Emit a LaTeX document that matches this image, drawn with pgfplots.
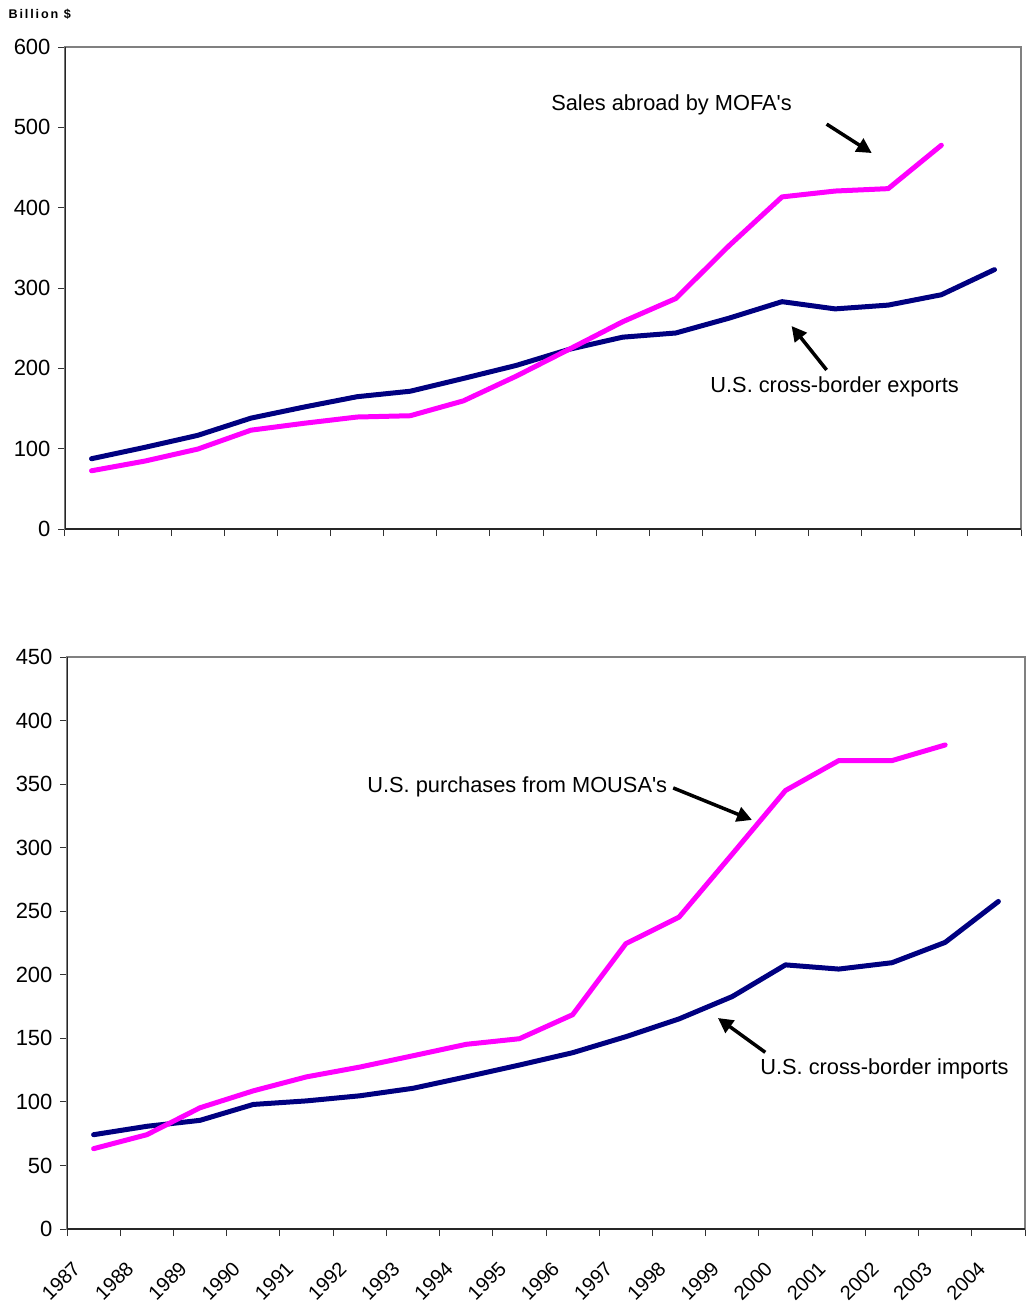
\documentclass[border=0pt]{standalone}
\usepackage{fontspec}
\setmainfont{Liberation Sans}
\usepackage{pgfplots}
\pgfplotsset{compat=1.18}
\usetikzlibrary{arrows.meta}
\definecolor{navyline}{HTML}{000080}
\definecolor{magline}{HTML}{FF00FF}
\tikzset{
 arr/.style={line width=3.5pt, black, -{Triangle[length=15pt,width=15pt]}},
 lab/.style={font=\fontsize{21.8}{26}\selectfont, black},
}
\begin{document}
\begin{tikzpicture}[x=1pt,y=1pt]
\path[use as bounding box] (0pt,0pt) rectangle (1027pt,-1303pt);
\pgfplotsset{
 common/.style={
  scale only axis,
  xmin=-0.5, xmax=17.5,
  xtick={-0.5,0.5,...,17.5},
  tick align=outside,
  xtick pos=lower, ytick pos=left,
  major tick length=7pt,
  tick style={black!80, line width=1pt},
  axis line style={draw=gray, line width=1.2pt},
  ymin=0,
  yticklabel style={font=\fontsize{22}{26}\selectfont, xshift=-4pt},
  /pgf/number format/assume math mode=true,
  every axis plot/.append style={line width=5pt, line join=round, line cap=round, no markers},
 },
}
\node[anchor=west, font=\fontsize{12.6}{14}\bfseries\addfontfeature{LetterSpace=15}] at (5pt,-14pt) {Billion \$};
\begin{axis}[common, at={(65pt,-529pt)}, anchor=south west, width=956pt, height=482pt,
  ymax=600, ytick={0,100,...,600}, xticklabels={}]
\addplot[navyline] coordinates {(0,87.5)(1,101.6)(2,116.6)(3,138)(4,151.8)(5,164.7)(6,171.5)(7,187.4)(8,203.7)(9,223.8)(10,238.8)(11,244)(12,262.4)(13,283)(14,274)(15,278.7)(16,291.6)(17,322.9)};
\addplot[magline] coordinates {(0,72.5)(1,84.5)(2,99.5)(3,123)(4,131.6)(5,139.4)(6,141)(7,159.5)(8,190.4)(9,224)(10,258)(11,286.9)(12,352.5)(13,413.4)(14,420.7)(15,423.7)(16,477.7)};
\node[lab] at (axis cs:10.92,527.8) {Sales abroad by MOFA\textquotesingle s};
\draw[arr] (axis cs:13.84,504) -- (axis cs:14.69,468);
\node[lab] at (axis cs:13.99,176.8) {U.S. cross-border exports};
\draw[arr] (axis cs:13.84,198) -- (axis cs:13.18,252.7);
\draw[black!85, line width=1.2pt] (rel axis cs:0,1) -- (rel axis cs:0,0) -- (rel axis cs:1,0);
\end{axis}
\begin{axis}[common, at={(67pt,-1229pt)}, anchor=south west, width=958pt, height=572pt,
  ymax=450, ytick={0,50,...,450},
  xticklabels={1987,1988,1989,1990,1991,1992,1993,1994,1995,1996,1997,1998,1999,2000,2001,2002,2003,2004,{}},
  xticklabel style={font=\fontsize{20}{24}\selectfont, xshift=-6pt, yshift=-45pt, rotate=45, anchor=center}]
\addplot[navyline] coordinates {(0,74.2)(1,80.8)(2,85.5)(3,98)(4,100.8)(5,104.8)(6,110.7)(7,119.7)(8,129)(9,138.7)(10,151.3)(11,165.3)(12,182.9)(13,207.8)(14,204.5)(15,209.5)(16,225.5)(17,257.7)};
\addplot[magline] coordinates {(0,63.2)(1,74.2)(2,95.4)(3,108.7)(4,119.7)(5,127.4)(6,136.3)(7,145.3)(8,149.7)(9,168.6)(10,224.5)(11,245.4)(12,295)(13,345)(14,368.5)(15,368.5)(16,380.8)};
\node[lab] at (axis cs:7.96,347.8) {U.S. purchases from MOUSA\textquotesingle s};
\draw[arr] (axis cs:10.89,347) -- (axis cs:12.37,321.8);
\node[lab] at (axis cs:14.86,125.9) {U.S. cross-border imports};
\draw[arr] (axis cs:12.62,139) -- (axis cs:11.73,166);
\draw[black!85, line width=1.2pt] (rel axis cs:0,1) -- (rel axis cs:0,0) -- (rel axis cs:1,0);
\end{axis}
\end{tikzpicture}
\end{document}
